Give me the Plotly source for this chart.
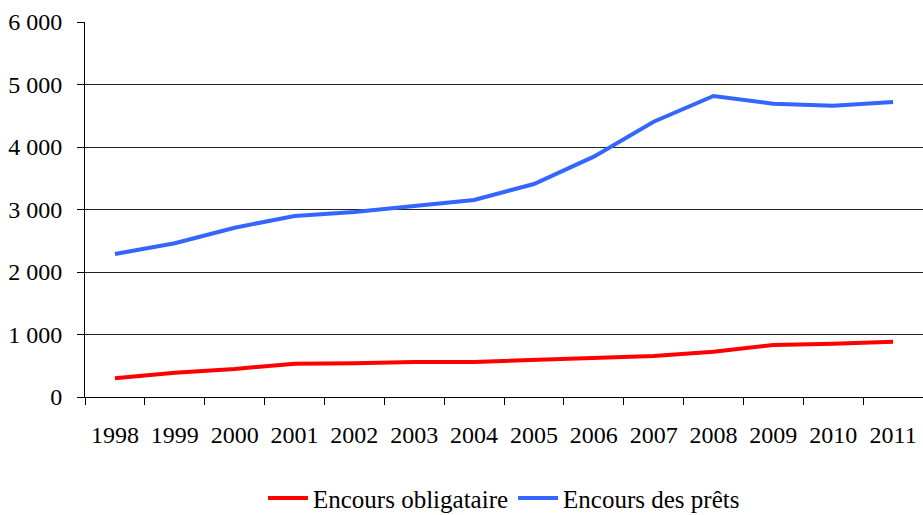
import plotly.graph_objects as go

years = ["1998", "1999", "2000", "2001", "2002", "2003", "2004",
         "2005", "2006", "2007", "2008", "2009", "2010", "2011"]
encours_obligataire = [299, 389, 448, 533, 539, 560, 560, 592, 635, 656, 725, 832, 853, 885]
encours_prets = [2288, 2459, 2709, 2896, 2960, 3061, 3152, 3408, 3845, 4405, 4816, 4693, 4661, 4720]
y_ticks = [0, 1000, 2000, 3000, 4000, 5000, 6000]

font = dict(family="Liberation Serif", size=24, color="black")
legend_font = dict(family="Liberation Serif", size=25, color="black")

fig = go.Figure()
fig.add_trace(go.Scatter(x=years, y=encours_obligataire, mode="lines",
                         name="Encours obligataire",
                         line=dict(color="#FF0000", width=4)))
fig.add_trace(go.Scatter(x=years, y=encours_prets, mode="lines",
                         name="Encours des prêts",
                         line=dict(color="#3366FF", width=4)))

fig.update_layout(
    width=923, height=515,
    margin=dict(l=85, r=0, t=22, b=118, autoexpand=False),
    paper_bgcolor="white", plot_bgcolor="white",
    font=font,
    separators=", ",
    showlegend=True,
    legend=dict(orientation="h", x=0.5, xanchor="center", y=-0.27, yanchor="middle",
                font=legend_font, itemwidth=40, tracegroupgap=0),
    xaxis=dict(type="category", range=[-0.5, len(years) - 0.5],
               tickson="boundaries", ticks="outside", ticklen=7,
               tickcolor="black", showline=True, linecolor="black", linewidth=1,
               showgrid=False, tickfont=font, ticklabelstandoff=16, automargin=False),
    yaxis=dict(range=[0, 6000], tickvals=y_ticks, tickformat=",d",
               ticks="outside", ticklen=7, tickcolor="black",
               showline=True, linecolor="black", linewidth=1,
               showgrid=True, gridcolor="#222222", gridwidth=1,
               zeroline=False, tickfont=font, ticklabelstandoff=10, automargin=False),
)

fig.write_html("out.html", config={"displayModeBar": False},
               post_script="document.body.style.margin='0px';document.body.style.padding='0px';")
